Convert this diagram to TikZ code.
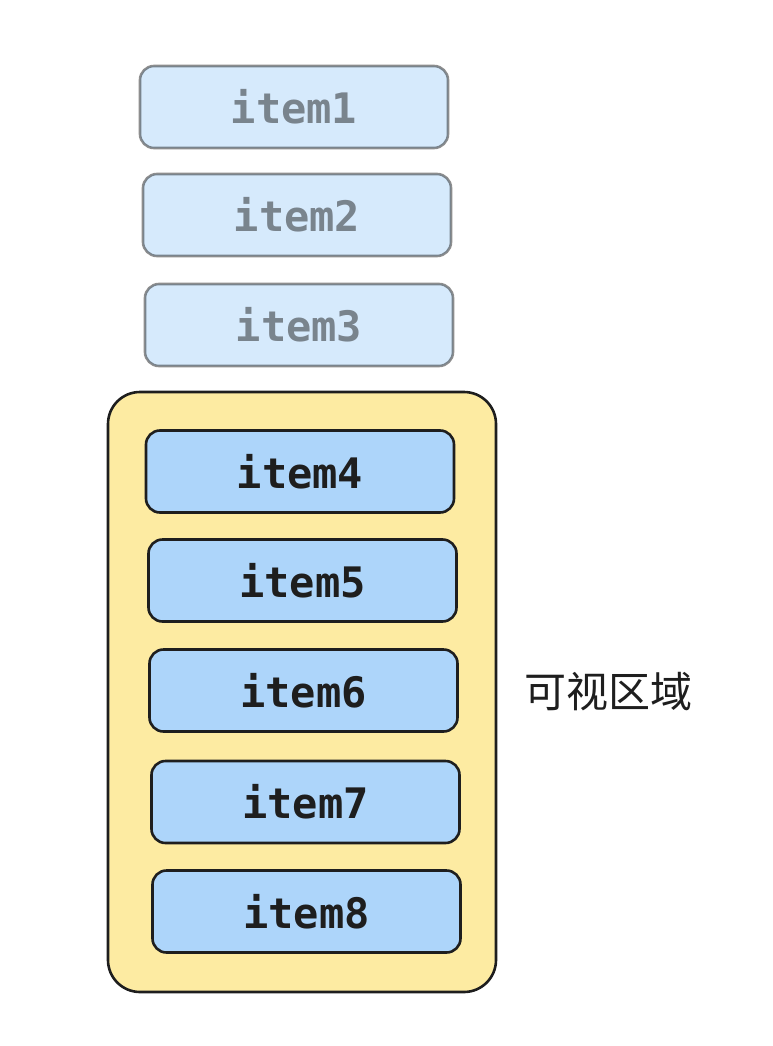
\documentclass[tikz,border=0pt]{standalone}
\usepackage{fontspec}
\newfontfamily\monob{DejaVu Sans Mono}
\newfontfamily\cjk{Noto Sans CJK SC}
\definecolor{stroke}{HTML}{1E1E1E}
\definecolor{itemblue}{HTML}{ADD5FA}
\definecolor{areayellow}{HTML}{FDEBA2}
\tikzset{
  itembox/.style={draw=stroke, fill=itemblue, line width=2.6pt, rounded corners=14pt,
    minimum width=308pt, minimum height=82pt, inner sep=0pt,
    font=\monob\bfseries\fontsize{42}{44}\selectfont, text=stroke},
  faded/.style={opacity=0.5},
  area/.style={draw=stroke, fill=areayellow, line width=2.6pt, rounded corners=32pt},
  lbl/.style={font=\cjk\fontsize{42}{46}\selectfont, text=stroke, inner sep=0pt}
}
\begin{document}
\begin{tikzpicture}[x=1pt,y=-1pt]
\useasboundingbox (0,0) rectangle (772,1046);
\draw[area] (108,392) rectangle (496,992);
\node[itembox,faded] (i1) at (294,107) {item1};
\node[itembox,faded] (i2) at (297,215) {item2};
\node[itembox,faded] (i3) at (299,325) {item3};
\node[itembox] (i4) at (300,471.5) {item4};
\node[itembox] (i5) at (302.5,580.5) {item5};
\node[itembox] (i6) at (303.5,690.5) {item6};
\node[itembox] (i7) at (305.5,802) {item7};
\node[itembox] (i8) at (306.5,911.5) {item8};
\node[lbl] (vis) at (608,692) {可视区域};
\end{tikzpicture}
\end{document}
